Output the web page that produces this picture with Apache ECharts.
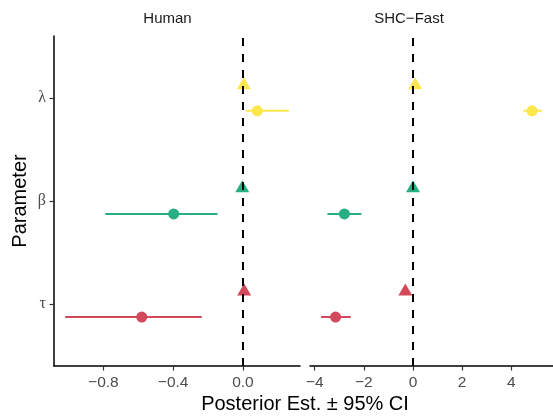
<!DOCTYPE html>
<html>
<head>
<meta charset="utf-8">
<script src="https://cdn.jsdelivr.net/npm/echarts@6/dist/echarts.min.js"></script>
<style>html,body{margin:0;padding:0;background:#fff}#c{width:553px;height:417px}</style>
</head>
<body>
<div id="c"></div>
<script>
// Data
var panels = ['Human', 'SHC\u2212Fast'];
var params = ['\u03c4', '\u03b2', '\u03bb']; // y positions 1,2,3
var colors = ['#D1495B', '#27AE82', '#FDE74C'];
// Human panel
var humanEst = [-0.58, -0.397, 0.082];
var humanLo = [-1.019, -0.789, 0.017];
var humanHi = [-0.236, -0.146, 0.263];
var humanTrue = [0.007, -0.004, 0.005];
// SHC-Fast panel
var shcEst = [-3.15, -2.79, 4.85];
var shcLo = [-3.74, -3.48, 4.49];
var shcHi = [-2.53, -2.10, 5.25];
var shcTrue = [-0.31, 0.0, 0.09];
// Tick labels
var humanTicks = [-0.8, -0.4, 0.0];
var shcTicks = [-4, -2, 0, 2, 4];

var offDown = 0.125, offUp = 0.143;
function minus(s){ return s.replace('-', '\u2212'); }

var series = [];
function addPanel(idx, est, lo, hi, tru) {
  for (var i = 0; i < params.length; i++) {
    var yPos = i + 1;
    series.push({
      type: 'custom', xAxisIndex: idx, yAxisIndex: idx, z: 3,
      data: [[lo[i], hi[i], yPos - offDown]],
      renderItem: (function(col){ return function(p, api){
        var a = api.coord([api.value(0), api.value(2)]);
        var b = api.coord([api.value(1), api.value(2)]);
        return {type:'line', shape:{x1:a[0], y1:a[1], x2:b[0], y2:b[1]}, style:{stroke:col, lineWidth:2}};
      };})(colors[i])
    });
    series.push({
      type: 'scatter', xAxisIndex: idx, yAxisIndex: idx, z: 4,
      symbol: 'circle', symbolSize: 11,
      itemStyle: {color: colors[i], opacity: 1},
      data: [[est[i], yPos - offDown]]
    });
    series.push({
      type: 'scatter', xAxisIndex: idx, yAxisIndex: idx, z: 4,
      symbol: 'triangle', symbolSize: [14, 12],
      itemStyle: {color: colors[i], opacity: 1},
      data: [[tru[i], yPos + offUp]]
    });
  }
  series.push({
    type: 'line', xAxisIndex: idx, yAxisIndex: idx, data: [], z: 2,
    markLine: {silent: true, symbol: ['none','none'], label:{show:false},
      lineStyle: {color:'#000', type:[8,8], width:2},
      data: [{xAxis: 0}]}
  });
}
addPanel(0, humanEst, humanLo, humanHi, humanTrue);
addPanel(1, shcEst, shcLo, shcHi, shcTrue);

function xAxisDef(idx, min, max, ticks, fmt) {
  return {
    type: 'value', gridIndex: idx, min: min, max: max,
    splitLine: {show:false},
    axisLine: {show:true, onZero:false, lineStyle:{color:'#000', width:1.5}},
    axisTick: {show:true, customValues: ticks, length:4.5, lineStyle:{color:'#333', width:1.2}},
    axisLabel: {show:true, customValues: ticks, color:'#4D4D4D', fontSize:15.5,
      fontFamily:'Liberation Sans, Arial', margin:9, formatter: fmt}
  };
}
function yAxisDef(idx, show) {
  return {
    type: 'value', gridIndex: idx, min: 0.4, max: 3.6,
    splitLine: {show:false},
    axisLine: {show:show, onZero:false, lineStyle:{color:'#000', width:1.5}},
    axisTick: {show:show, customValues:[1,2,3], length:4.5, lineStyle:{color:'#333', width:1.2}},
    axisLabel: {show:show, customValues:[1,2,3], color:'#4D4D4D', fontSize:16,
      fontFamily:'Liberation Serif, DejaVu Serif, serif', margin:8,
      formatter: function(v){ return params[Math.round(v)-1] || ''; }}
  };
}

var chart = echarts.init(document.getElementById('c'), null, {renderer:'canvas'});
chart.setOption({
  animation: false,
  backgroundColor: '#fff',
  grid: [
    {left: 54, top: 36, width: 246, height: 330},
    {left: 310, top: 36, width: 246, height: 330}
  ],
  xAxis: [
    xAxisDef(0, -1.083, 0.327, humanTicks, function(v){ return minus(v.toFixed(1)); }),
    xAxisDef(1, -4.19, 5.70, shcTicks, function(v){ return minus(String(Math.round(v))); })
  ],
  yAxis: [yAxisDef(0, true), yAxisDef(1, false)],
  series: series,
  graphic: [
    {type:'text', x:167.5, y:19, style:{text:panels[0], fill:'#1A1A1A', fontSize:15, fontFamily:'Liberation Sans, Arial', align:'center', verticalAlign:'middle'}},
    {type:'text', x:409, y:19, style:{text:panels[1], fill:'#1A1A1A', fontSize:15, fontFamily:'Liberation Sans, Arial', align:'center', verticalAlign:'middle'}},
    {type:'text', x:305, y:404, style:{text:'Posterior Est. \u00b1 95% CI', fill:'#000', fontSize:20, fontFamily:'Liberation Sans, Arial', align:'center', verticalAlign:'middle'}},
    {type:'text', x:20, y:201, rotation: Math.PI/2, style:{text:'Parameter', fill:'#000', fontSize:20, fontFamily:'Liberation Sans, Arial', align:'center', verticalAlign:'middle'}}
  ]
});
</script>
</body>
</html>
